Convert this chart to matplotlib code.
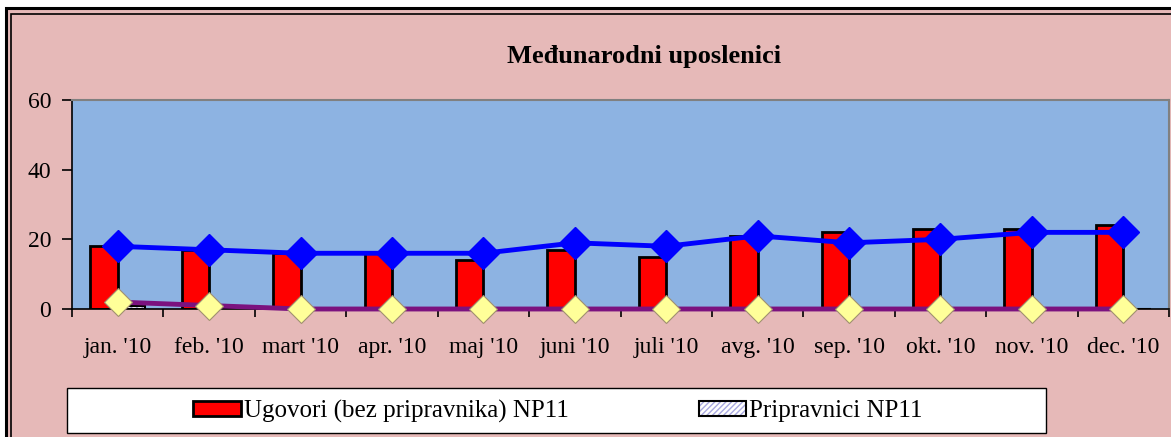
import numpy as np
import matplotlib.pyplot as plt
from matplotlib.patches import Rectangle

# data
months = ["jan. '10", "feb. '10", "mart '10", "apr. '10", "maj '10", "juni '10",
          "juli '10", "avg. '10", "sep. '10", "okt. '10", "nov. '10", "dec. '10"]
ugovori = [18, 17, 16, 16, 14, 17, 15, 21, 22, 23, 23, 24]
pripravnici = [1, 0.3, 0, 0, 0, 0, 0, 0, 0, 0, 0, 0]
ukupno_line = [18, 17, 16, 16, 16, 19, 18, 21, 19, 20, 22, 22]
pripravnici_line = [2, 1, 0, 0, 0, 0, 0, 0, 0, 0, 0, 0]
legend_labels = ['Ugovori (bez pripravnika) NP11', 'Pripravnici NP11']

pink = '#E6B9B8'
blue_bg = '#8DB3E2'

plt.rcParams['font.family'] = 'Liberation Serif'
plt.rcParams['hatch.linewidth'] = 1.0

fig = plt.figure(figsize=(11.71, 4.37), dpi=100)
fig.patch.set_facecolor('white')
W, H = 1171, 437

# pink chart area with double black frame (cut off at right/bottom)
fig.patches.append(Rectangle((6 / W, -0.1), 1.2, 1 - 8 / H + 0.1, transform=fig.transFigure,
                             facecolor=pink, edgecolor='black', linewidth=2.2, zorder=-2))
fig.patches.append(Rectangle((11 / W, -0.1), 1.2, 1 - 14 / H + 0.1, transform=fig.transFigure,
                             facecolor='none', edgecolor='black', linewidth=1.2, zorder=-1))
# legend box
fig.patches.append(Rectangle((67 / W, 1 - 433 / H), (1046 - 67) / W, (433 - 388) / H,
                             transform=fig.transFigure, facecolor='white', edgecolor='black',
                             linewidth=1.0, zorder=-1))

ax = fig.add_axes([72 / W, 1 - 309 / H, (1169 - 72) / W, (309 - 100) / H])
ax.set_zorder(2)
ax.set_facecolor(blue_bg)

x = np.arange(len(months))
w = 0.3
b1 = ax.bar(x - w / 2, ugovori, width=w, color='#FF0000', edgecolor='black', linewidth=2.0, zorder=2)
# hatched fill + black outline drawn separately so the stripes can be light
b2h = ax.bar(x + w / 2, pripravnici, width=w, color='white', edgecolor='#A8A8E0', linewidth=0,
             hatch='//////', zorder=2)
b2 = ax.bar(x + w / 2, pripravnici, width=w, color='none', edgecolor='black', linewidth=1.5,
            zorder=2)

ax.plot(x, pripravnici_line, color='#7B127F', linewidth=3.5, marker='D', markersize=14,
        markerfacecolor='#FFFF99', markeredgecolor='#A09070', markeredgewidth=0.8, zorder=4,
        clip_on=False)
ax.plot(x, ukupno_line, color='#0000FF', linewidth=3.5, marker='D', markersize=16,
        markerfacecolor='#0000FF', markeredgecolor='#0000FF', zorder=5, clip_on=False)

ax.set_xlim(-0.5, len(months) - 0.5)
ax.set_ylim(0, 60)
ax.set_yticks([0, 20, 40, 60])
ax.set_xticks(x)
ax.set_xticklabels(months)
ax.set_xticks(np.arange(-0.5, len(months), 1), minor=True)
ax.tick_params(axis='x', which='major', length=0, pad=20, labelsize=17)
ax.tick_params(axis='x', which='minor', length=6, width=1.2, direction='out', color='black')
ax.tick_params(axis='y', length=7, width=1.2, direction='out', labelsize=17, pad=8)

for side in ['top', 'right']:
    ax.spines[side].set_color('#808080')
    ax.spines[side].set_linewidth(1.5)
ax.spines['left'].set_linewidth(1.2)
ax.spines['bottom'].set_linewidth(1.2)

fig.text(644 / W, 1 - 56 / H, 'Međunarodni uposlenici', ha='center', va='center',
         fontsize=19, fontweight='bold')

leg = fig.legend(handles=[b1, (b2h, b2)], labels=legend_labels, loc='center', ncol=2,
                 bbox_to_anchor=(558 / W, 1 - 411 / H), fontsize=18, frameon=False,
                 handlelength=1.9, handleheight=0.55, handletextpad=0.12,
                 columnspacing=5.2)

fig.savefig('out.png', dpi=100)
